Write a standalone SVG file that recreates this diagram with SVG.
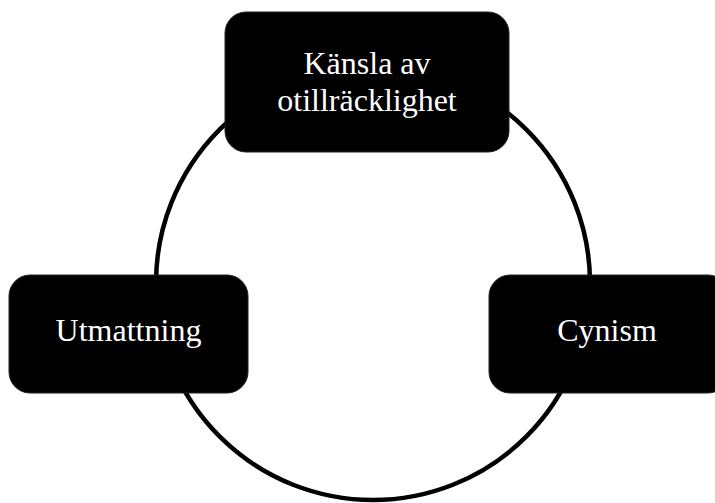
<svg xmlns="http://www.w3.org/2000/svg" width="715" height="503" viewBox="0 0 715 503">
<style>
.box{fill:#000;stroke:#222;stroke-width:1}
.lbl{font-family:"Liberation Serif","Times New Roman",serif;font-size:32px;fill:#fff;text-anchor:middle}
</style>
<rect width="715" height="503" fill="#fff"/>
<g id="connectors">
<circle cx="373" cy="283" r="217" fill="none" stroke="#000" stroke-width="4.5"/>
</g>
<g id="node-top">
<rect class="box" x="225" y="12" width="284" height="140" rx="21"/>
<text class="lbl" x="367" y="74">Känsla av</text>
<text class="lbl" x="367" y="111">otillräcklighet</text>
</g>
<g id="node-left">
<rect class="box" x="9" y="275" width="239" height="118" rx="21"/>
<text class="lbl" x="128.5" y="341">Utmattning</text>
</g>
<g id="node-right">
<rect class="box" x="489" y="275" width="240" height="118" rx="21"/>
<text class="lbl" x="607" y="341">Cynism</text>
</g>
</svg>
